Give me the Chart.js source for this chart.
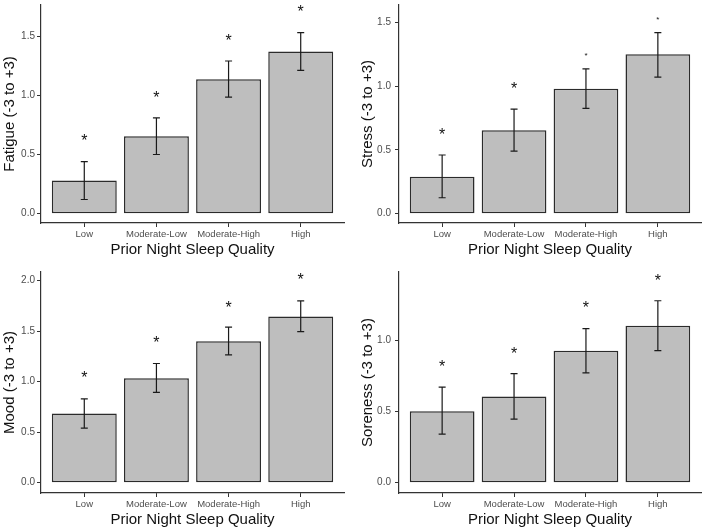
<!DOCTYPE html>
<html><head><meta charset="utf-8">
<script src="https://cdn.jsdelivr.net/npm/chart.js@4/dist/chart.umd.min.js"></script>
<style>
html,body{margin:0;padding:0;background:#fff;}
#wrap{position:relative;width:706px;height:530px;background:#fff;}
.p{position:absolute;width:353px;height:265px;}
</style></head><body>
<div id="wrap">
<div class="p" style="left:0;top:0"><canvas id="c1" width="353" height="265"></canvas></div>
<div class="p" style="left:353px;top:0"><canvas id="c2" width="353" height="265"></canvas></div>
<div class="p" style="left:0;top:265px"><canvas id="c3" width="353" height="265"></canvas></div>
<div class="p" style="left:353px;top:265px"><canvas id="c4" width="353" height="265"></canvas></div>
</div>
<script>
const categories = ['Low', 'Moderate-Low', 'Moderate-High', 'High'];
const xTitle = 'Prior Night Sleep Quality';

const fatigueMean  = [0.28, 0.655, 1.135, 1.37];
const fatigueLower = [0.12, 0.50, 0.985, 1.21];
const fatigueUpper = [0.44, 0.81, 1.29, 1.53];
const fatigueStar  = [0.63, 0.995, 1.475, 1.72];
const fatigueTicks = [0, 0.5, 1.0, 1.5];

const stressMean  = [0.29, 0.655, 0.98, 1.25];
const stressLower = [0.125, 0.49, 0.825, 1.07];
const stressUpper = [0.46, 0.82, 1.135, 1.42];
const stressStar  = [0.63, 0.99, 1.25, 1.53];
const stressTicks = [0, 0.5, 1.0, 1.5];

const moodMean  = [0.685, 1.035, 1.40, 1.645];
const moodLower = [0.54, 0.895, 1.265, 1.495];
const moodUpper = [0.83, 1.18, 1.54, 1.80];
const moodStar  = [1.05, 1.40, 1.75, 2.02];
const moodTicks = [0, 0.5, 1.0, 1.5, 2.0];

const sorenessMean  = [0.50, 0.605, 0.925, 1.10];
const sorenessLower = [0.34, 0.445, 0.77, 0.925];
const sorenessUpper = [0.67, 0.765, 1.08, 1.275];
const sorenessStar  = [0.825, 0.915, 1.235, 1.425];
const sorenessTicks = [0, 0.5, 1.0];

const FONT = "'Liberation Sans', Arial, sans-serif";

const errPlugin = {
  id: 'errstar',
  afterDatasetsDraw(chart) {
    const o = chart.options.plugins.errstar;
    const xs = chart.scales.x, ys = chart.scales.y, ctx = chart.ctx;
    ctx.save();
    ctx.strokeStyle = '#1a1a1a';
    ctx.lineWidth = 1.2;
    o.lower.forEach((lo, i) => {
      const px = xs.getPixelForValue(i + 1);
      const y1 = ys.getPixelForValue(lo), y2 = ys.getPixelForValue(o.upper[i]);
      ctx.beginPath();
      ctx.moveTo(px, y1); ctx.lineTo(px, y2);
      ctx.moveTo(px - 3.5, y1); ctx.lineTo(px + 3.5, y1);
      ctx.moveTo(px - 3.5, y2); ctx.lineTo(px + 3.5, y2);
      ctx.stroke();
    });
    ctx.fillStyle = '#111';
    ctx.textAlign = 'center';
    ctx.textBaseline = 'alphabetic';
    o.stars.forEach((s, i) => {
      const px = xs.getPixelForValue(i + 1);
      const size = o.starSizes[i];
      ctx.font = size + 'px ' + FONT;
      ctx.fillText('*', px, ys.getPixelForValue(s) + 0.42 * size);
    });
    ctx.restore();
  }
};

function makeChart(id, p) {
  new Chart(document.getElementById(id), {
    type: 'bar',
    data: {
      datasets: [{
        data: p.mean.map((v, i) => ({x: i + 1, y: v})),
        backgroundColor: '#bebebe',
        borderColor: '#2b2b2b',
        borderWidth: 1.5,
        borderSkipped: false,
        barPercentage: 0.9,
        categoryPercentage: 1.0
      }]
    },
    plugins: [errPlugin],
    options: {
      responsive: false,
      animation: false,
      layout: {padding: {left: 0, top: p.top, right: 353 - p.right, bottom: 0}},
      plugins: {
        legend: {display: false},
        tooltip: {enabled: false},
        errstar: {lower: p.lower, upper: p.upper, stars: p.stars, starSizes: p.starSizes}
      },
      scales: {
        x: {
          type: 'linear',
          min: 0.4, max: 4.6,
          offset: false,
          afterBuildTicks: s => { s.ticks = categories.map((c, i) => ({value: i + 1})); },
          afterFit: s => { s.height = 265 - p.bottom; s.paddingLeft = 0; s.paddingRight = 0; },
          ticks: {
            callback: v => categories[v - 1],
            font: {family: FONT, size: 9.5},
            color: '#4d4d4d',
            padding: 2,
            maxRotation: 0,
            autoSkip: false
          },
          grid: {display: true, offset: false, drawOnChartArea: false, drawTicks: true, tickLength: 4, color: '#333333', lineWidth: 1},
          border: {display: true, color: '#333333', width: 1.2},
          title: {display: true, text: xTitle, font: {family: FONT, size: 15}, color: '#111',
                  padding: {top: 0, bottom: 265 - p.xTitleY - 9}}
        },
        y: {
          type: 'linear',
          min: p.yMin, max: p.yMax,
          afterBuildTicks: s => { s.ticks = p.ticks.map(v => ({value: v})); },
          afterFit: s => { s.width = p.left; s.paddingTop = 0; s.paddingBottom = 0; },
          ticks: {
            callback: v => Number(v).toFixed(1),
            font: {family: FONT, size: 10},
            color: '#4d4d4d',
            padding: p.tickPad
          },
          grid: {display: true, drawOnChartArea: false, drawTicks: true, tickLength: 4, color: '#333333', lineWidth: 1},
          border: {display: true, color: '#333333', width: 1.2},
          title: {display: true, text: p.yTitle, font: {family: FONT, size: 15}, color: '#111',
                  padding: {top: p.yTitleX - 9, bottom: 0}}
        }
      }
    }
  });
}

makeChart('c1', {mean: fatigueMean, lower: fatigueLower, upper: fatigueUpper, stars: fatigueStar, ticks: fatigueTicks,
  starSizes: [16, 16, 16, 16], yTitle: 'Fatigue (-3 to +3)',
  left: 41, right: 344, top: 5, bottom: 223, yMin: -0.0785, yMax: 1.763, yTitleX: 10, xTitleY: 250, tickPad: 2});
makeChart('c2', {mean: stressMean, lower: stressLower, upper: stressUpper, stars: stressStar, ticks: stressTicks,
  starSizes: [16, 16, 8, 8], yTitle: 'Stress (-3 to +3)',
  left: 46, right: 348, top: 5, bottom: 223, yMin: -0.073, yMax: 1.636, yTitleX: 15, xTitleY: 250, tickPad: 4});
makeChart('c3', {mean: moodMean, lower: moodLower, upper: moodUpper, stars: moodStar, ticks: moodTicks,
  starSizes: [16, 16, 16, 16], yTitle: 'Mood (-3 to +3)',
  left: 41, right: 344, top: 7, bottom: 228, yMin: -0.102, yMax: 2.086, yTitleX: 10, xTitleY: 255, tickPad: 2});
makeChart('c4', {mean: sorenessMean, lower: sorenessLower, upper: sorenessUpper, stars: sorenessStar, ticks: sorenessTicks,
  starSizes: [16, 16, 16, 16], yTitle: 'Soreness (-3 to +3)',
  left: 46, right: 348, top: 7, bottom: 228, yMin: -0.072, yMax: 1.4765, yTitleX: 15, xTitleY: 255, tickPad: 4});
</script>
</body></html>
